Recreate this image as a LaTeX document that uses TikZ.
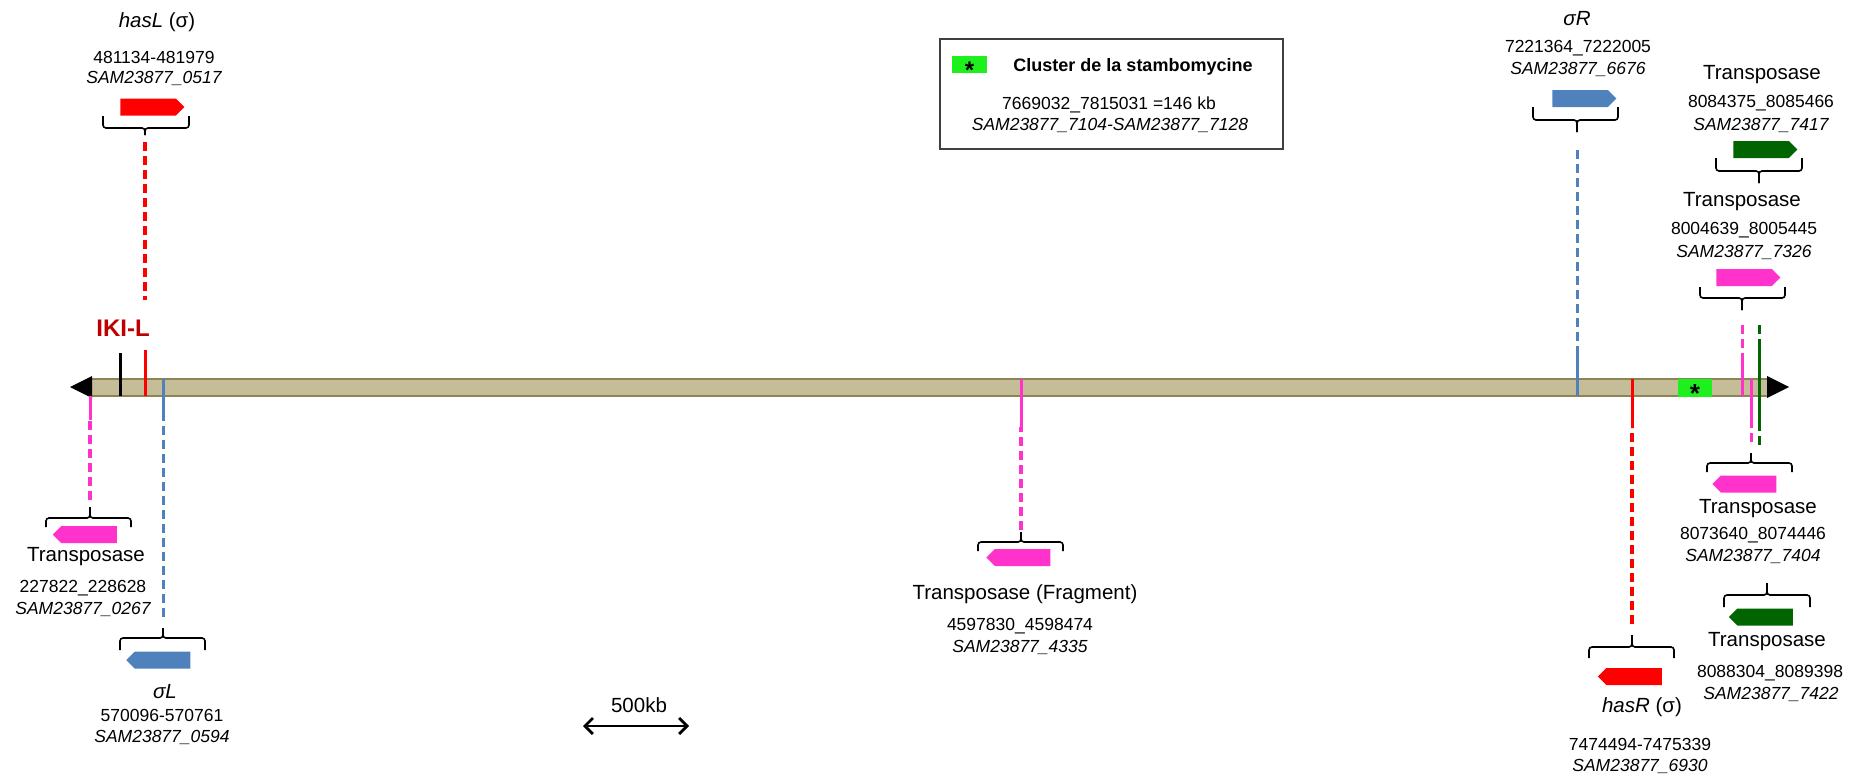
\documentclass[tikz,border=0pt]{standalone}
\usepackage{fontspec}
\setmainfont{Liberation Sans}
\usetikzlibrary{shapes.symbols,arrows.meta}

\definecolor{hasred}{RGB}{255,0,0}
\definecolor{ikired}{RGB}{192,0,0}
\definecolor{tpink}{RGB}{255,51,204}
\definecolor{sigblue}{RGB}{79,129,189}
\definecolor{tgreen}{RGB}{0,100,0}
\definecolor{clgreen}{RGB}{30,240,30}
\definecolor{chrfill}{RGB}{196,189,151}
\definecolor{chrline}{RGB}{140,132,84}

\begin{document}
\begin{tikzpicture}[x=1pt,y=-1pt,
  gene/.style={signal, signal pointer angle=90, minimum width=64pt,
    minimum height=17pt, inner sep=0pt},
  lab/.style={font=\fontsize{20.5}{22}\selectfont, inner sep=0pt},
  num/.style={font=\fontsize{17.5}{19}\selectfont, inner sep=0pt},
  loc/.style={font=\fontsize{17.5}{19}\selectfont\itshape, inner sep=0pt},
  stem/.style={line width=3.5pt, dash pattern=on 9pt off 5pt},
  chrmark/.style={line width=3pt},
  star/.style={inner sep=0pt, font=\fontsize{26}{26}\selectfont\bfseries},
  brc/.style={line width=1.6pt, rounded corners=3pt}]
  \useasboundingbox (0,0) rectangle (1854,776);

  % chromosome
  \fill[chrfill] (92,379) rectangle (1767,396);
  \draw[chrline, line width=2.8pt] (92,379) -- (1767,379) (92,396) -- (1767,396);
  \fill (70,387) -- (92,376) -- (92,398) -- cycle;
  \fill (1767,376) -- (1789,387) -- (1767,398) -- cycle;

  % genes
  \foreach \nm/\xc/\yc/\col/\dir in {
    hasL/148/107/hasred/east,
    tp0267/89/534.5/tpink/west,
    sigL/162.5/660/sigblue/west,
    tp4335/1022.5/557.5/tpink/west,
    sigR/1580/98.5/sigblue/east,
    hasR/1634/676.5/hasred/west,
    tp7417/1761/149.5/tgreen/east,
    tp7326/1744/277.5/tpink/east,
    tp7404/1748.5/484/tpink/west,
    tp7422/1765/617/tgreen/west
  }{
    \node[gene, fill=\col, signal to=\dir] (\nm) at (\xc,\yc) {};
  }

  % braces
  \foreach \nm/\xa/\xb/\xt/\ye/\yh/\yt in {
    hasL/103/189/145/116/128/135,
    tp0267/46/131/90/527/518/507,
    sigL/120/205/163/650/638/628,
    tp4335/978/1063/1021/551/542/532,
    sigR/1533/1618/1577/107/120/132,
    hasR/1589/1674/1632/658/647/635,
    tp7417/1716/1802/1759/158/171/183,
    tp7326/1700/1785/1742/287/298/310,
    tp7404/1707/1792/1751/472/463/453,
    tp7422/1724/1810/1767/607/595/583
  }{
    \draw[brc] (\xa,\ye) -- (\xa,\yh) -- (\xt,\yh) -- (\xt,\yt);
    \draw[brc] (\xb,\ye) -- (\xb,\yh) -- (\xt,\yh) -- (\xt,\yt);
    \coordinate (\nm-tip) at (\xt,\yt);
  }

  % connectors to the chromosome
  \coordinate (hasL-end) at (145,300);
  \coordinate (tp0267-end) at (90,420);
  \coordinate (sigL-end) at (163,418);
  \coordinate (tp4335-end) at (1021,427);
  \coordinate (sigR-end) at (1577,353);
  \coordinate (hasR-end) at (1632,428);
  \coordinate (tp7326-end) at (1742,357);
  \coordinate (tp7404-end) at (1751,422);
  \coordinate (grn-top) at (1759,325);
  \coordinate (grn-a) at (1759,347);
  \coordinate (grn-b) at (1759,422);
  \coordinate (grn-bot) at (1759,447);

  \draw[stem, hasred, shorten <=7pt] (hasL-tip) -- (hasL-end);
  \draw[stem, tpink, shorten <=7pt] (tp0267-tip) -- (tp0267-end);
  \draw[stem, sigblue, line width=3pt, shorten <=11pt] (sigL-tip) -- (sigL-end);
  \draw[stem, tpink, shorten <=2pt] (tp4335-tip) -- (tp4335-end);
  \draw[stem, sigblue, line width=3pt, shorten <=18pt] (sigR-tip) -- (sigR-end);
  \draw[stem, hasred, shorten <=11pt] (hasR-tip) -- (hasR-end);
  \draw[stem, tpink, line width=3pt, shorten <=15pt] (tp7326-tip) -- (tp7326-end);
  \draw[stem, tpink, line width=3pt, shorten <=11pt] (tp7404-tip) -- (tp7404-end);
  \draw[stem, tgreen, line width=3pt] (grn-top) -- (grn-a);
  \draw[stem, tgreen, line width=3pt] (grn-b) -- (grn-bot);

  % marks on the chromosome
  \draw[chrmark] (120,353) -- (120,396);
  \draw[chrmark, hasred] (145,350) -- (145,396);
  \draw[chrmark, tpink] (90,396) -- (tp0267-end);
  \draw[chrmark, sigblue] (163,379) -- (sigL-end);
  \draw[chrmark, tpink] (1021,379) -- (tp4335-end);
  \draw[chrmark, sigblue] (1577,396) -- (sigR-end);
  \draw[chrmark, hasred] (1632,379) -- (hasR-end);
  \draw[chrmark, tpink] (1742,396) -- (tp7326-end);
  \draw[chrmark, tpink] (1751,379) -- (tp7404-end);
  \draw[chrmark, tgreen] (grn-a) -- (grn-b);

  \node[fill=clgreen, minimum width=34pt, minimum height=18pt, inner sep=0pt] (cluster) at (1695,388) {};
  \node[star] (cluster-star) at (1695,394) {*};
  \node[font=\fontsize{24}{26}\selectfont\bfseries, text=ikired] (ikiL) at (123,328) {IKI-L};

  % labels
  \node[lab] (hasL-name) at (157,22) {\textit{hasL} (σ)};
  \node[num] (hasL-pos) at (154,57) {481134-481979};
  \node[loc] (hasL-id) at (154,78) {SAM23877\_0517};

  \node[lab] (tp0267-name) at (86,557) {Transposase};
  \node[num] (tp0267-pos) at (83,588) {227822\_228628};
  \node[loc] (tp0267-id) at (83,609) {SAM23877\_0267};

  \node[lab] (sigL-name) at (165,692) {\textit{σL}};
  \node[num] (sigL-pos) at (162,715) {570096-570761};
  \node[loc] (sigL-id) at (162,737) {SAM23877\_0594};

  \node[lab] (tp4335-name) at (1025,594) {Transposase (Fragment)};
  \node[num] (tp4335-pos) at (1020,626) {4597830\_4598474};
  \node[loc] (tp4335-id) at (1020,647) {SAM23877\_4335};

  \node[lab] (sigR-name) at (1577,19) {\textit{σR}};
  \node[num] (sigR-pos) at (1578,48) {7221364\_7222005};
  \node[loc] (sigR-id) at (1578,69) {SAM23877\_6676};

  \node[lab] (hasR-name) at (1642,707) {\textit{hasR} (σ)};
  \node[num] (hasR-pos) at (1640,744) {7474494-7475339};
  \node[loc] (hasR-id) at (1640,766) {SAM23877\_6930};

  \node[lab] (tp7417-name) at (1762,75) {Transposase};
  \node[num] (tp7417-pos) at (1761,103) {8084375\_8085466};
  \node[loc] (tp7417-id) at (1761,125) {SAM23877\_7417};

  \node[lab] (tp7326-name) at (1742,202) {Transposase};
  \node[num] (tp7326-pos) at (1744,230) {8004639\_8005445};
  \node[loc] (tp7326-id) at (1744,252) {SAM23877\_7326};

  \node[lab] (tp7404-name) at (1758,509) {Transposase};
  \node[num] (tp7404-pos) at (1753,535) {8073640\_8074446};
  \node[loc] (tp7404-id) at (1753,556) {SAM23877\_7404};

  \node[lab] (tp7422-name) at (1767,642) {Transposase};
  \node[num] (tp7422-pos) at (1770,673) {8088304\_8089398};
  \node[loc] (tp7422-id) at (1771,694) {SAM23877\_7422};

  % legend
  \node[draw=black!75, line width=1.5pt, minimum width=343pt, minimum height=110pt,
    inner sep=0pt] (legend) at (1111.5,94) {};
  \node[fill=clgreen, minimum width=35pt, minimum height=17pt, inner sep=0pt] (key) at (969.5,64.5) {};
  \node[star, font=\fontsize{24}{24}\selectfont\bfseries] (key-star) at (969.5,70) {*};
  \node[font=\fontsize{18}{20}\selectfont\bfseries, inner sep=0pt] (key-name) at (1133,67) {Cluster de la stambomycine};
  \node[num] (key-pos) at (1109,105) {7669032\_7815031 =146 kb};
  \node[loc] (key-id) at (1110,125) {SAM23877\_7104-SAM23877\_7128};

  % scale
  \coordinate (sb-a) at (583,726);
  \coordinate (sb-b) at (689,726);
  \draw[line width=2.8pt, {Straight Barb[length=8pt,width=16pt]}-{Straight Barb[length=8pt,width=16pt]}] (sb-a) -- (sb-b);
  \node[lab] (sb-name) at (639,705) {500kb};
\end{tikzpicture}
\end{document}
